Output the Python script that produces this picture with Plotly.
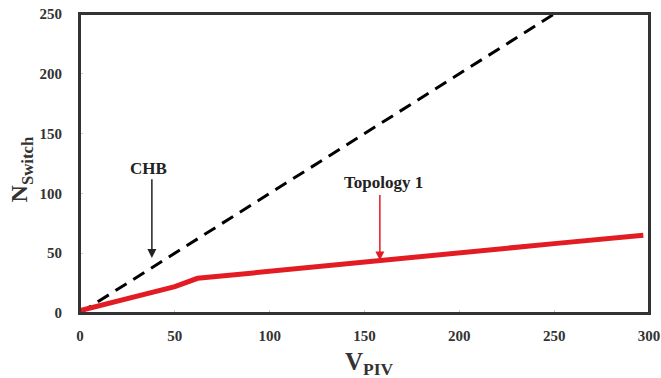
import plotly.graph_objects as go

# CHB: N_switch vs V_PIV (dashed black)
chb_v = [0, 250]
chb_n = [0, 250]

# Topology 1 (red)
topo_v = [0, 10, 20, 30, 40, 50, 62, 100, 150, 200, 250, 297]
topo_n = [2, 6, 10, 13, 17, 22, 29, 35, 43, 51, 58, 65]

x_ticks = [0, 50, 100, 150, 200, 250, 300]
y_ticks = [0, 50, 100, 150, 200, 250]

font_fam = "Liberation Serif"
tick_font = dict(family=font_fam, size=15, color="#333333")

fig = go.Figure()
fig.add_trace(go.Scatter(x=chb_v, y=chb_n, mode="lines",
                         line=dict(color="black", width=3, dash="13px,8px"),
                         showlegend=False))
fig.add_trace(go.Scatter(x=topo_v, y=topo_n, mode="lines",
                         line=dict(color="#e31b23", width=5),
                         showlegend=False))

axis_common = dict(showgrid=False, zeroline=False, showline=True, mirror=True,
                   linecolor="#333333", linewidth=2, ticks="inside", ticklen=3,
                   tickcolor="#cccccc", tickfont=tick_font, automargin=False,
                   ticklabeloverflow="allow")

fig.update_xaxes(range=[0, 300], tickvals=x_ticks, ticktext=[f"<b>{t}</b>" for t in x_ticks],
                 ticklabelstandoff=8, **axis_common)
fig.update_yaxes(range=[0, 250], tickvals=y_ticks, ticktext=[f"<b>{t}</b>" for t in y_ticks],
                 ticklabelstandoff=13, **axis_common)

# Plot frame
fig.add_shape(type="rect", xref="paper", yref="paper", x0=0, x1=1, y0=0, y1=1,
              line=dict(color="#333333", width=2), layer="above")

# Axis titles
fig.add_annotation(x=0.508, y=-0.168, xref="paper", yref="paper", yanchor="middle",
                   text="<b>V<sub>PIV</sub></b>", showarrow=False,
                   font=dict(family=font_fam, size=25, color="#333333"))
fig.add_annotation(x=-0.102, y=0.48, xref="paper", yref="paper", xanchor="center",
                   text="<b>N<sub>Switch</sub></b>", showarrow=False, textangle=-90,
                   font=dict(family=font_fam, size=24, color="#333333"))

# Arrows
fig.add_annotation(x=37.9, y=46, ax=37.9, ay=113, xref="x", yref="y", axref="x", ayref="y",
                   text="", showarrow=True, arrowhead=2, arrowsize=1.2, arrowwidth=1.5,
                   arrowcolor="#222222")
fig.add_annotation(x=36.2, y=121, xref="x", yref="y", text="<b>CHB</b>", showarrow=False,
                   font=dict(family=font_fam, size=17, color="#222222"))
fig.add_annotation(x=158.1, y=44, ax=158.1, ay=100, xref="x", yref="y", axref="x", ayref="y",
                   text="", showarrow=True, arrowhead=2, arrowsize=1.2, arrowwidth=1.5,
                   arrowcolor="#e31b23")
fig.add_annotation(x=160, y=109, xref="x", yref="y", text="<b>Topology 1</b>", showarrow=False,
                   font=dict(family=font_fam, size=17, color="#222222"))

fig.update_layout(width=661, height=378, margin=dict(l=80, r=12, t=14, b=65),
                  plot_bgcolor="white", paper_bgcolor="white")

fig.write_html("out.html", config={"displayModeBar": False},
               post_script="document.body.style.margin='0';document.body.style.overflow='hidden';")
